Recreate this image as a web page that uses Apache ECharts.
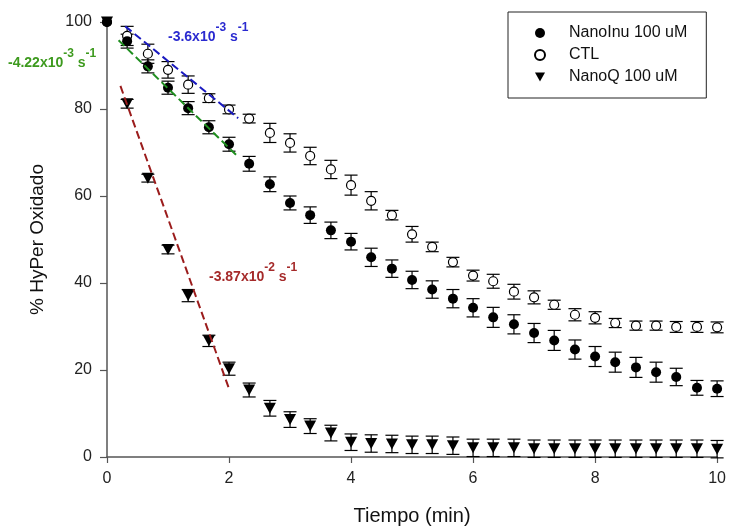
<!DOCTYPE html>
<html>
<head>
<meta charset="utf-8">
<script src="https://cdn.jsdelivr.net/npm/echarts@6/dist/echarts.min.js"></script>
<style>html,body{margin:0;padding:0;background:#fff;}#c{width:729px;height:531px;}</style>
</head>
<body>
<div id="c"></div>
<script>
// ---- data ----
const timeMin = [0,0.33,0.67,1,1.33,1.67,2,2.33,2.67,3,3.33,3.67,4,4.33,4.67,5,5.33,5.67,6,6.33,6.67,7,7.33,7.67,8,8.33,8.67,9,9.33,9.67,10];
const nanoInu = [100,95.6,89.8,84.9,80.2,75.8,71.9,67.4,62.7,58.4,55.6,52.1,49.5,45.9,43.3,40.7,38.5,36.4,34.3,32.1,30.5,28.5,26.8,24.7,23.1,21.8,20.6,19.5,18.4,15.9,15.7];
const nanoInuErr = [0,1.6,1.5,1.5,1.5,1.5,1.6,1.7,1.7,1.6,1.9,1.9,1.9,2.1,2.0,2.0,2.0,2.1,2.1,2.3,2.2,2.2,2.3,2.2,2.3,2.3,2.3,2.3,2.0,1.7,1.8];
const ctl = [100,96.8,92.7,89.0,85.6,82.5,79.9,77.8,74.5,72.2,69.2,66.1,62.5,58.9,55.6,51.2,48.3,44.8,41.7,40.4,38.0,36.7,35.0,32.7,32.0,30.8,30.2,30.2,29.9,29.9,29.8];
const ctlErr = [0,2.2,2.2,1.9,2.0,1.0,1.0,1.0,2.2,2.1,2.0,2.1,2.3,2.1,1.1,1.8,1.1,1.1,1.25,1.6,1.7,1.5,1.05,1.4,1.4,1.05,1.05,1.05,1.25,1.25,1.25];
const nanoQ = [100,81.2,64.1,47.7,37.1,26.7,20.3,15.4,11.2,8.6,7.1,5.5,3.4,3.1,3.0,2.8,2.8,2.6,2.1,2.1,2.1,1.9,1.9,1.9,1.9,1.9,1.9,1.9,1.9,1.9,1.8];
const nanoQErr = [0,1.0,0.9,1.0,1.4,1.3,1.5,1.6,1.8,1.8,1.7,1.8,1.9,2.0,2.0,2.0,2.0,2.0,2.0,2.0,2.0,2.0,2.0,2.0,2.0,2.0,2.0,2.0,2.0,2.0,2.0];
const fitCtl = [[0.3,99.0],[2.15,77.9]];
const fitInu = [[0.19,95.8],[2.15,69.0]];
const fitQ = [[0.22,85.3],[2.0,15.7]];
const seriesNames = ['NanoInu 100 uM','CTL','NanoQ 100 uM'];
const xTicks = {min:0, max:10, interval:2};
const yTicks = {min:0, max:100, interval:20};

// ---- helpers ----
const FONT = "'Liberation Sans', Arial, sans-serif";
function zip(xs, ys){ return xs.map((x,i)=>[x, ys[i]]); }
function zip3(xs, ys, es){ return xs.map((x,i)=>[x, ys[i], es[i]]); }
function errRender(params, api){
  const x = api.value(0), y = api.value(1), e = api.value(2);
  if (!e) return null;
  const hi = api.coord([x, y + e]), lo = api.coord([x, y - e]);
  const w = 6.5;
  const st = {stroke:'#000', lineWidth:1.2};
  return {type:'group', children:[
    {type:'line', shape:{x1:hi[0],y1:hi[1],x2:lo[0],y2:lo[1]}, style:st},
    {type:'line', shape:{x1:hi[0]-w,y1:hi[1],x2:hi[0]+w,y2:hi[1]}, style:st},
    {type:'line', shape:{x1:lo[0]-w,y1:lo[1],x2:lo[0]+w,y2:lo[1]}, style:st}
  ]};
}
function errSeries(ys, es){
  return {type:'custom', renderItem: errRender, data: zip3(timeMin, ys, es),
          encode:{x:0,y:1}, z:2, silent:true};
}
function fitSeries(pts, color){
  return {type:'line', data: pts, symbol:'none', z:5, silent:true,
          lineStyle:{color: color, width:2, type:[8,4]}};
}
const triDown = 'path://M0,0L20,0L10,18Z';
function ann(text, sup1, sup2, color, left, top){
  return {type:'text', left:left, top:top, z:10,
    style:{text:'{a|'+text+'}{b|'+sup1+'}{a| s}{b|'+sup2+'}',
      fill: color, font: "bold 14px "+FONT,
      rich:{
        a:{fontSize:14, fontWeight:'bold', fontFamily:FONT, fill:color, lineHeight:30, verticalAlign:'middle'},
        b:{fontSize:12, fontWeight:'bold', fontFamily:FONT, fill:color, lineHeight:12, verticalAlign:'top'}
      }}};
}

const chart = echarts.init(document.getElementById('c'), null, {renderer:'canvas'});
chart.setOption({
  animation:false,
  backgroundColor:'#fff',
  textStyle:{fontFamily:FONT},
  grid:{left:107, right:11, top:22, bottom:70},
  xAxis:{type:'value', min:xTicks.min, max:xTicks.max, interval:xTicks.interval,
    name:'Tiempo (min)', nameLocation:'middle', nameGap:49,
    nameTextStyle:{fontSize:20, color:'#111', fontFamily:FONT},
    axisLine:{lineStyle:{color:'#555', width:1.5}},
    axisTick:{length:6, lineStyle:{color:'#555', width:1.2}},
    axisLabel:{fontSize:16, color:'#222', margin:14, fontFamily:FONT},
    splitLine:{show:false}},
  yAxis:{type:'value', min:yTicks.min, max:yTicks.max, interval:yTicks.interval,
    name:'% HyPer Oxidado', nameLocation:'middle', nameGap:60,
    nameTextStyle:{fontSize:19, color:'#111', fontFamily:FONT},
    axisLine:{show:true, lineStyle:{color:'#555', width:1.5}},
    axisTick:{show:true, length:7, lineStyle:{color:'#555', width:1.2}},
    axisLabel:{fontSize:16, color:'#222', margin:15, fontFamily:FONT},
    splitLine:{show:false}},
  legend:{data:seriesNames, orient:'vertical', left:508, top:12,
    padding:[13,19,13,26], itemGap:6, itemWidth:10, itemHeight:10,
    borderColor:'#222', borderWidth:1, borderRadius:0,
    formatter: n => '{g| }' + n,
    textStyle:{fontSize:16, color:'#111', fontFamily:FONT, lineHeight:16,
      rich:{g:{width:19, lineHeight:16}}}},
  series:[
    errSeries(ctl, ctlErr),
    errSeries(nanoInu, nanoInuErr),
    errSeries(nanoQ, nanoQErr),
    {name:seriesNames[1], type:'scatter', data:zip(timeMin, ctl), symbol:'circle', symbolSize:9, z:3,
     itemStyle:{color:'#fff', borderColor:'#000', borderWidth:1.2, opacity:1}},
    {name:seriesNames[0], type:'scatter', data:zip(timeMin, nanoInu), symbol:'circle', symbolSize:10, z:3,
     itemStyle:{color:'#000', opacity:1}},
    {name:seriesNames[2], type:'scatter', data:zip(timeMin, nanoQ), symbol:triDown, symbolSize:[12,11], z:3,
     itemStyle:{color:'#000', opacity:1}},
    fitSeries(fitCtl, '#1a1ac0'),
    fitSeries(fitInu, '#1f8f1f'),
    fitSeries(fitQ, '#9b1c1c')
  ],
  graphic:[
    ann('-3.6x10','-3','-1','#2a2ad0',168,22),
    ann('-4.22x10','-3','-1','#3d9a1e',8,48),
    ann('-3.87x10','-2','-1','#a52a2a',209,262)
  ]
});
</script>
</body>
</html>
